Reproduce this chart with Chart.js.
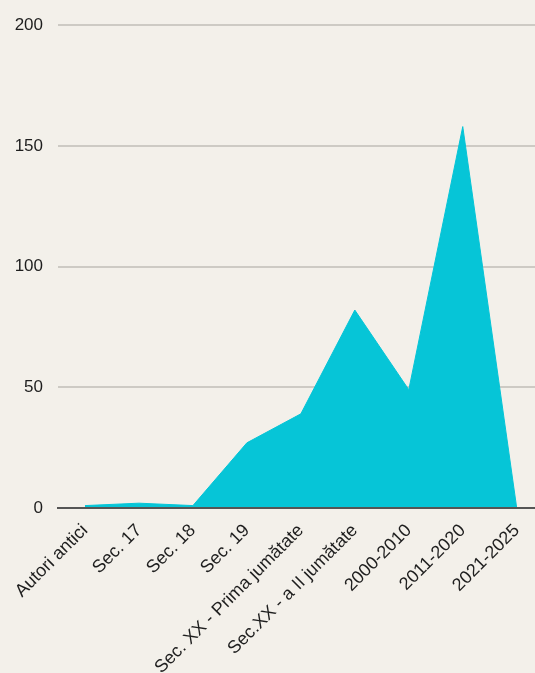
<!DOCTYPE html>
<html>
<head>
<meta charset="utf-8">
<script src="https://cdn.jsdelivr.net/npm/chart.js@4/dist/chart.umd.min.js"></script>
<style>
  html, body { margin: 0; padding: 0; background: #f3f0ea; overflow: hidden; }
  #wrap { width: 544px; height: 673px; }
</style>
</head>
<body>
<div id="wrap"><canvas id="chart"></canvas></div>
<script>
// data
const categories = ['Autori antici', 'Sec. 17', 'Sec. 18', 'Sec. 19', 'Sec. XX - Prima jumătate',
  'Sec.XX - a II jumătate', '2000-2010', '2011-2020', '2021-2025'];
const counts = [1, 2, 1, 27, 39, 82, 49, 158, 0];
const yTicks = [0, 50, 100, 150, 200];

const ctx = document.getElementById('chart').getContext('2d');
const chart = new Chart(ctx, {
    type: 'line',
    data: {
        labels: categories,
        datasets: [{
            data: counts,
            fill: 'origin',
            backgroundColor: '#06c5d7',
            borderColor: '#06c5d7',
            borderWidth: 1,
            pointRadius: 0,
            tension: 0
        }]
    },
    options: {
        responsive: true,
        maintainAspectRatio: false,
        animation: false,
        layout: { padding: { top: 11, left: 0, right: 0, bottom: 0 } },
        plugins: {
            legend: { display: false },
            tooltip: { enabled: false }
        },
        scales: {
            x: {
                offset: true,
                afterFit: (axis) => { axis.height = 165; },
                grid: { display: false, drawTicks: false },
                border: { display: true, color: '#555', width: 2, z: 1 },
                ticks: {
                    maxRotation: 45,
                    minRotation: 45,
                    autoSkip: false,
                    padding: 12,
                    color: '#1e1e1e',
                    font: { family: 'Liberation Sans', size: 18 }
                }
            },
            y: {
                min: 0,
                max: 200,
                afterBuildTicks: (axis) => { axis.ticks = yTicks.map(v => ({ value: v })); },
                afterFit: (axis) => { axis.width = 58; },
                grid: {
                    color: (c) => c.tick.value === 0 ? 'rgba(0,0,0,0)' : '#cdcac4',
                    lineWidth: 2,
                    drawTicks: false
                },
                border: { display: false },
                ticks: {
                    padding: 15,
                    color: '#1e1e1e',
                    font: { family: 'Liberation Sans', size: 17 }
                }
            }
        }
    }
});
</script>
</body>
</html>
